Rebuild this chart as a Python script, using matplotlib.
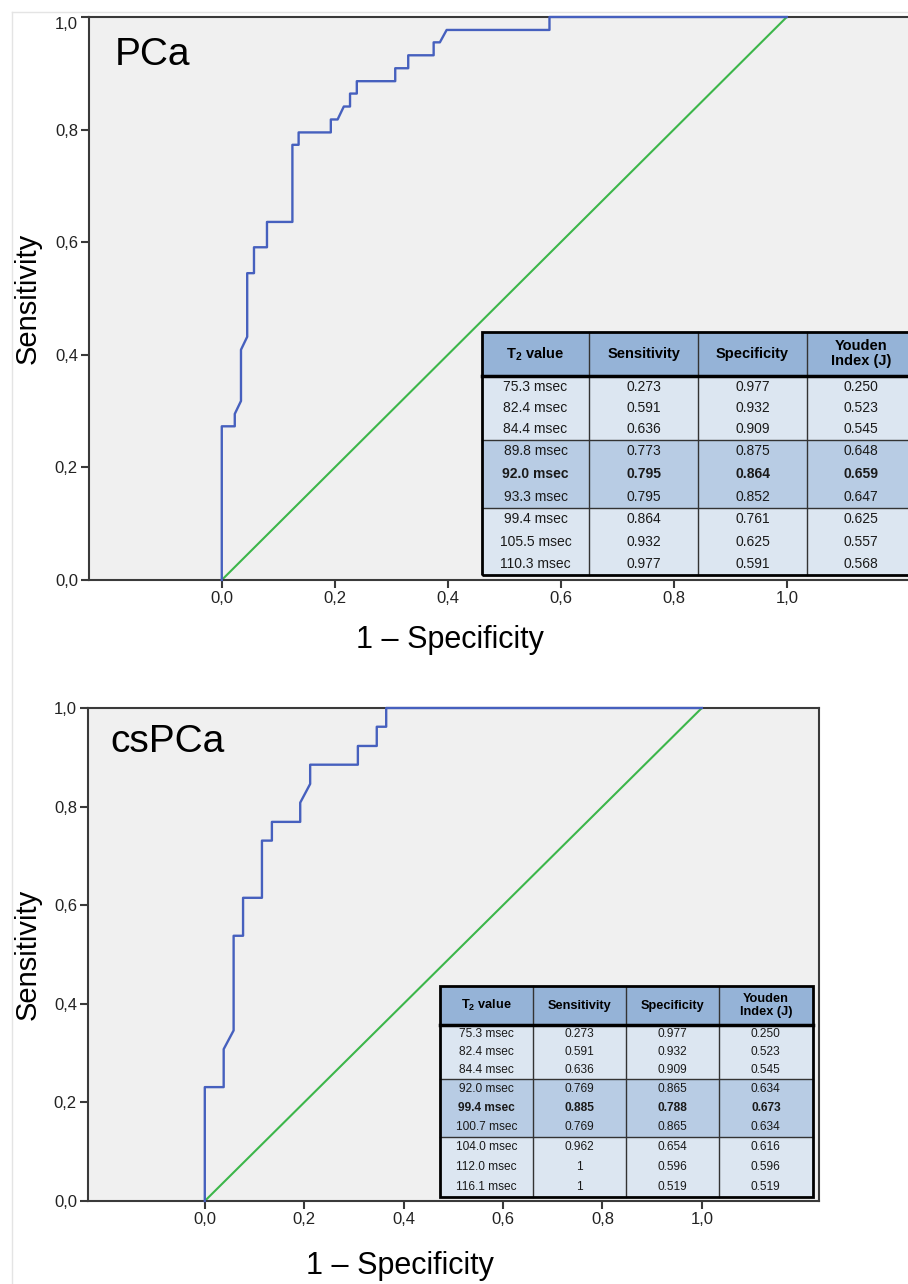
import matplotlib
matplotlib.use('Agg')
import matplotlib.pyplot as plt
from matplotlib.patches import Rectangle
from matplotlib.lines import Line2D

plt.rcParams['font.family'] = ['Liberation Sans', 'DejaVu Sans']
plt.rcParams['mathtext.fontset'] = 'custom'
plt.rcParams['mathtext.rm'] = 'Liberation Sans'
plt.rcParams['mathtext.bf'] = 'Liberation Sans:bold'

# ---------------- data ----------------
pca_fpr = [0.0, 0.0, 0.023, 0.023, 0.034, 0.034, 0.045, 0.045, 0.057, 0.057,
           0.080, 0.080, 0.125, 0.125, 0.136, 0.136, 0.193, 0.193, 0.205, 0.216,
           0.227, 0.227, 0.239, 0.239, 0.307, 0.307, 0.330, 0.330, 0.375, 0.375,
           0.386, 0.398, 0.580, 0.580, 1.0]
pca_tpr = [0.0, 0.273, 0.273, 0.295, 0.318, 0.409, 0.432, 0.545, 0.545, 0.591,
           0.591, 0.636, 0.636, 0.773, 0.773, 0.795, 0.795, 0.818, 0.818, 0.841,
           0.841, 0.864, 0.864, 0.886, 0.886, 0.909, 0.909, 0.932, 0.932, 0.955,
           0.955, 0.977, 0.977, 1.0, 1.0]

cspca_fpr = [0.0, 0.0, 0.038, 0.038, 0.058, 0.058, 0.077, 0.077, 0.115, 0.115,
             0.135, 0.135, 0.192, 0.192, 0.212, 0.212, 0.308, 0.308, 0.346, 0.346,
             0.365, 0.365, 1.0]
cspca_tpr = [0.0, 0.231, 0.231, 0.308, 0.346, 0.538, 0.538, 0.615, 0.615, 0.731,
             0.731, 0.769, 0.769, 0.808, 0.846, 0.885, 0.885, 0.923, 0.923, 0.962,
             0.962, 1.0, 1.0]

ref_line = [0.0, 1.0]
tick_values = [0.0, 0.2, 0.4, 0.6, 0.8, 1.0]
tick_labels = ['0,0', '0,2', '0,4', '0,6', '0,8', '1,0']

table_header = [r'$\mathbf{T_2}$ value', 'Sensitivity', 'Specificity', 'Youden\nIndex (J)']

pca_t2 = ['75.3 msec', '82.4 msec', '84.4 msec', '89.8 msec', '92.0 msec',
          '93.3 msec', '99.4 msec', '105.5 msec', '110.3 msec']
pca_sens = ['0.273', '0.591', '0.636', '0.773', '0.795', '0.795', '0.864', '0.932', '0.977']
pca_spec = ['0.977', '0.932', '0.909', '0.875', '0.864', '0.852', '0.761', '0.625', '0.591']
pca_youden = ['0.250', '0.523', '0.545', '0.648', '0.659', '0.647', '0.625', '0.557', '0.568']
pca_best = 4

cspca_t2 = ['75.3 msec', '82.4 msec', '84.4 msec', '92.0 msec', '99.4 msec',
            '100.7 msec', '104.0 msec', '112.0 msec', '116.1 msec']
cspca_sens = ['0.273', '0.591', '0.636', '0.769', '0.885', '0.769', '0.962', '1', '1']
cspca_spec = ['0.977', '0.932', '0.909', '0.865', '0.788', '0.865', '0.654', '0.596', '0.519']
cspca_youden = ['0.250', '0.523', '0.545', '0.634', '0.673', '0.634', '0.616', '0.596', '0.519']
cspca_best = 4

# ---------------- style ----------------
W, H = 908, 1284
BLUE = '#4660BE'
GREEN = '#3CB64A'
BG = '#F0F0F0'
SPINE = '#3A3A3A'
HEAD = '#95B3D7'
LIGHT = '#DCE6F1'
MID = '#B8CCE4'

fig = plt.figure(figsize=(W / 100, H / 100), dpi=100)
fig.patch.set_facecolor('white')


def fx(x):
    return x / W


def fy(y):
    return 1 - y / H


def setup_axes(rect, title, xlab_xy, ylab_x, fpr, tpr):
    ax = fig.add_axes(rect)
    ax.set_facecolor(BG)
    ax.set_xlim(-0.235, 1.235)
    ax.set_ylim(0, 1)
    ax.plot(ref_line, ref_line, color=GREEN, lw=1.5, zorder=2)
    ax.plot(fpr, tpr, color=BLUE, lw=1.7, zorder=3, clip_on=False)
    ax.set_xticks(tick_values)
    ax.set_xticklabels(tick_labels)
    ax.set_yticks(tick_values)
    ax.set_yticklabels(tick_labels)
    for s in ax.spines.values():
        s.set_color(SPINE)
        s.set_linewidth(1.5)
    ax.tick_params(direction='out', length=6, width=1.5, color=SPINE,
                   labelsize=12, pad=2, labelcolor='#222222')
    ax.set_ylabel('Sensitivity', fontsize=21, va='center')
    ax.yaxis.set_label_coords(ylab_x, 0.5)
    ax.set_xlabel('1 \u2013 Specificity', fontsize=22, va='center')
    ax.xaxis.set_label_coords(*xlab_xy)
    ax.text(0.031, 0.932, title, transform=ax.transAxes, fontsize=28,
            ha='left', va='center')
    return ax


def draw_table(col_edges, header_y, group_edges, cols, best, body_fs, head_fs):
    x0, x1 = col_edges[0], col_edges[-1]
    top, hb = header_y
    bottom = group_edges[-1]
    fig.add_artist(Rectangle((fx(x0), fy(hb)), fx(x1) - fx(x0), fy(top) - fy(hb),
                             transform=fig.transFigure, facecolor=HEAD,
                             edgecolor='none', zorder=5))
    fills = [LIGHT, MID, LIGHT]
    for g in range(3):
        ga, gb = group_edges[g], group_edges[g + 1]
        fig.add_artist(Rectangle((fx(x0), fy(gb)), fx(x1) - fx(x0), fy(ga) - fy(gb),
                                 transform=fig.transFigure, facecolor=fills[g],
                                 edgecolor='none', zorder=5))
    for c in range(4):
        cx = (col_edges[c] + col_edges[c + 1]) / 2
        fig.text(fx(cx), fy((top + hb) / 2), table_header[c], ha='center', va='center',
                 fontsize=head_fs, fontweight='bold', linespacing=1.1, zorder=7)
    for g in range(3):
        ga, gb = group_edges[g], group_edges[g + 1]
        rh = (gb - ga) / 3
        for r in range(3):
            i = g * 3 + r
            cy = ga + rh * (r + 0.5)
            for c in range(4):
                cx = (col_edges[c] + col_edges[c + 1]) / 2
                fig.text(fx(cx), fy(cy), cols[c][i], ha='center', va='center',
                         fontsize=body_fs,
                         fontweight='bold' if i == best else 'normal',
                         color='#1a1a1a', zorder=7)
    for xe in col_edges[1:-1]:
        fig.add_artist(Line2D([fx(xe), fx(xe)], [fy(top), fy(bottom)],
                              transform=fig.transFigure, color='#333333', lw=1.0, zorder=6))
    for ye in group_edges[1:-1]:
        fig.add_artist(Line2D([fx(x0), fx(x1)], [fy(ye), fy(ye)],
                              transform=fig.transFigure, color='#333333', lw=1.0, zorder=6))
    fig.add_artist(Line2D([fx(x0), fx(x1)], [fy(hb), fy(hb)],
                          transform=fig.transFigure, color='black', lw=2.5, zorder=6))
    fig.add_artist(Rectangle((fx(x0), fy(bottom)), fx(x1) - fx(x0), fy(top) - fy(bottom),
                             transform=fig.transFigure, facecolor='none',
                             edgecolor='black', lw=2.0, zorder=6))


# faint outer frame (drawn beneath the axes)
fig.add_artist(Line2D([fx(12), fx(12)], [fy(12), 0], transform=fig.transFigure,
                      color='#E4E4E4', lw=1.0, zorder=-1))
fig.add_artist(Line2D([fx(12), 1], [fy(12), fy(12)], transform=fig.transFigure,
                      color='#E4E4E4', lw=1.0, zorder=-1))

top_w = 1.47 * 565
ax1 = setup_axes([fx(89), fy(580), top_w / W, 563 / H], 'PCa',
                 ((450 - 89) / top_w, (580 - 640) / 563), (28 - 89) / top_w,
                 pca_fpr, pca_tpr)
bot_w = 1.47 * 497
ax2 = setup_axes([fx(88), fy(1201), bot_w / W, 493 / H], 'csPCa',
                 ((400 - 88) / bot_w, (1201 - 1266) / 493), (28 - 88) / bot_w,
                 cspca_fpr, cspca_tpr)

# keep the top "1,0" label inside the picture, as in the reference
ax1.get_yticklabels()[-1].set_va('top')

draw_table([481.7, 589.3, 698.3, 806.7, 915.0], (331.7, 376.0),
           [376.0, 440.0, 508.3, 575.0],
           [pca_t2, pca_sens, pca_spec, pca_youden], pca_best, 10, 10.5)

draw_table([440.0, 532.7, 626.0, 719.0, 812.7], (986.0, 1025.0),
           [1025.0, 1079.3, 1136.7, 1196.7],
           [cspca_t2, cspca_sens, cspca_spec, cspca_youden], cspca_best, 8.6, 9.2)

fig.savefig('out.png', dpi=100, facecolor='white')
